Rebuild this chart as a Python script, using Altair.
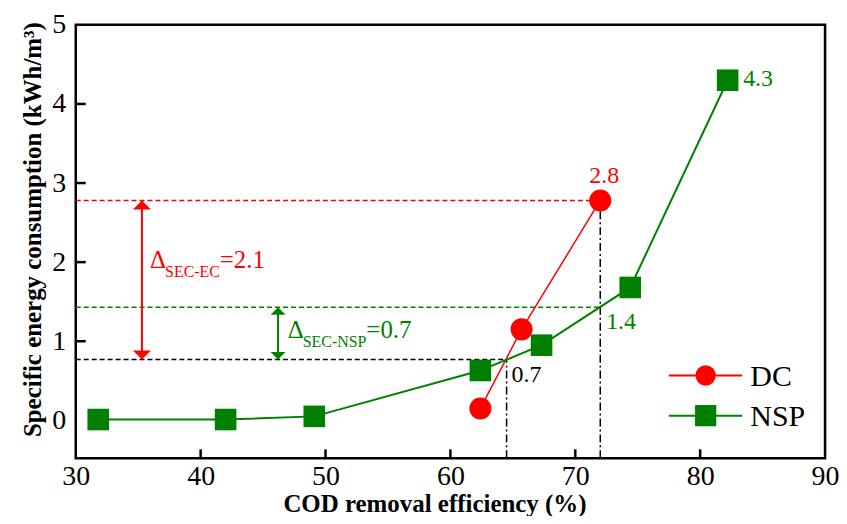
import altair as alt
import pandas as pd

# ---------------- data ----------------
dc_x = [62.4, 65.7, 72.0]
dc_y = [0.15, 1.15, 2.78]
nsp_x = [31.8, 42.0, 49.1, 62.4, 67.3, 74.4, 82.2]
nsp_y = [0.01, 0.01, 0.05, 0.63, 0.95, 1.68, 4.30]

x_ticks = [30, 40, 50, 60, 70, 80, 90]
y_ticks = [0, 1, 2, 3, 4, 5]
x_domain = [30, 90]
y_domain = [-0.48, 5]

RED = "#FF0000"
GREEN = "#008000"
BLACK = "#000000"

# dashed horizontal guide lines
h_y = [2.78, 1.43, 0.77]
h_x1 = [30, 30, 30]
h_x2 = [72.0, 72.0, 64.5]
h_color = [RED, GREEN, BLACK]
# dash-dot vertical guide lines
v_x = [64.5, 72.0]
v_y1 = [-0.48, -0.48]
v_y2 = [0.77, 2.78]

# double arrows
arrow_x = [35.3, 46.2]
arrow_lo = [0.77, 0.77]
arrow_hi = [2.78, 1.43]
arrow_color = [RED, GREEN]
arrow_head = [324, 225]

# annotation texts
ann_text = ["2.8", "1.4", "0.7", "4.3", "Δ", "SEC-EC", "=2.1", "Δ", "SEC-NSP", "=0.7"]
ann_x = [71.12, 72.47, 64.9, 83.44, 35.95, 37.15, 41.53, 46.97, 48.17, 53.27]
ann_y = [3.0, 1.153, 0.49, 4.233, 1.925, 1.816, 1.925, 1.039, 0.933, 1.039]
ann_color = [RED, GREEN, BLACK, GREEN, RED, RED, RED, GREEN, GREEN, GREEN]
ann_size = [24, 24, 24, 24, 25, 16, 25, 25, 16, 25]

# legend
leg_label = ["DC", "NSP"]
leg_y = [0.567, 0.059]
leg_text_y = [0.429, -0.067]
leg_x1 = [77.49, 77.49]
leg_x2 = [83.36, 83.36]
leg_mx = [80.44, 80.44]
leg_tx = [84.02, 84.02]

FONT = "Liberation Serif"

# ---------------- frames ----------------
dc = pd.DataFrame({"x": dc_x, "y": dc_y})
nsp = pd.DataFrame({"x": nsp_x, "y": nsp_y})
hdf = pd.DataFrame({"x": h_x1, "x2": h_x2, "y": h_y, "c": h_color})
vdf = pd.DataFrame({"x": v_x, "y": v_y1, "y2": v_y2})
adf = pd.DataFrame({"x": arrow_x, "y": arrow_lo, "y2": arrow_hi, "c": arrow_color, "s": arrow_head})
tdf = pd.DataFrame({"x": ann_x, "y": ann_y, "t": ann_text, "c": ann_color, "s": ann_size})
xt = pd.DataFrame({"x": x_ticks[1:-1]})
yt = pd.DataFrame({"y": y_ticks[1:-1]})
ldf = pd.DataFrame({"x": leg_x1, "x2": leg_x2, "mx": leg_mx, "tx": leg_tx,
                    "y": leg_y, "ty": leg_text_y, "label": leg_label})

xs = alt.Scale(domain=x_domain, nice=False, zero=False)
ys = alt.Scale(domain=y_domain, nice=False, zero=False)

xaxis = alt.Axis(values=x_ticks, title="COD removal efficiency (%)", grid=False,
                 domain=False, ticks=False, labelFont=FONT, labelFontSize=28,
                 labelPadding=4, labelColor="black", titleFont=FONT, titleFontSize=25,
                 titleFontWeight="bold", titleColor="black", titlePadding=1,
                 titleX=360, labelFlush=False)
yaxis = alt.Axis(values=y_ticks, title="Specific energy consumption (kWh/m³)", grid=False,
                 domain=False, ticks=False, labelFont=FONT, labelFontSize=28,
                 labelPadding=10, labelColor="black", titleFont=FONT, titleFontSize=25,
                 titleFontWeight="bold", titleColor="black", titlePadding=6,
                 titleY=205, labelFlush=False)


def X(f="x"):
    return alt.X(f, type="quantitative", scale=xs, axis=xaxis)


def Y(f="y"):
    return alt.Y(f, type="quantitative", scale=ys, axis=yaxis)


hlines = alt.Chart(hdf).mark_rule(strokeDash=[5, 3], strokeWidth=1.5).encode(
    x=X(), x2="x2", y=Y(), color=alt.Color("c:N", scale=None))
vlines = alt.Chart(vdf).mark_rule(strokeDash=[8, 3, 2, 3], strokeWidth=1.5, color=BLACK).encode(
    x=X(), y=Y(), y2="y2")
arrows = alt.Chart(adf).mark_rule(strokeWidth=2).encode(
    x=X(), y=Y(), y2="y2", color=alt.Color("c:N", scale=None))
head_up = alt.Chart(adf).mark_point(shape="M0,0L1,1L-1,1Z", filled=True, opacity=1).encode(
    x=X(), y=Y("y2"), color=alt.Color("c:N", scale=None), size=alt.Size("s:Q", scale=None))
head_dn = alt.Chart(adf).mark_point(shape="M0,0L1,-1L-1,-1Z", filled=True, opacity=1).encode(
    x=X(), y=Y("y"), color=alt.Color("c:N", scale=None), size=alt.Size("s:Q", scale=None))

dc_line = alt.Chart(dc).mark_line(color=RED, strokeWidth=1.5).encode(x=X(), y=Y())
dc_pts = alt.Chart(dc).mark_point(shape="circle", filled=True, size=490, color=RED, opacity=1).encode(
    x=X(), y=Y())
nsp_line = alt.Chart(nsp).mark_line(color=GREEN, strokeWidth=2).encode(x=X(), y=Y())
nsp_pts = alt.Chart(nsp).mark_point(shape="square", filled=True, size=470, color=GREEN, opacity=1).encode(
    x=X(), y=Y())

texts = alt.Chart(tdf).mark_text(font=FONT, align="left", baseline="alphabetic").encode(
    x=X(), y=Y(), text="t:N", color=alt.Color("c:N", scale=None), size=alt.Size("s:Q", scale=None))

xticks = alt.Chart(xt).mark_rule(color=BLACK, strokeWidth=2.5).encode(
    x=X(), y=alt.value(435), y2=alt.value(426))
yticks = alt.Chart(yt).mark_rule(color=BLACK, strokeWidth=2.5).encode(
    y=Y(), x=alt.value(0), x2=alt.value(10))

leg_dc = ldf[ldf.label == "DC"]
leg_nsp = ldf[ldf.label == "NSP"]
leg_lines = alt.Chart(ldf).mark_rule(strokeWidth=2).encode(
    x=X(), x2="x2", y=Y(),
    color=alt.Color("label:N", scale=alt.Scale(domain=leg_label, range=[RED, GREEN]), legend=None))
leg_c = alt.Chart(leg_dc).mark_point(shape="circle", filled=True, size=415, color=RED, opacity=1).encode(
    x=X("mx"), y=Y())
leg_s = alt.Chart(leg_nsp).mark_point(shape="square", filled=True, size=455, color=GREEN, opacity=1).encode(
    x=X("mx"), y=Y())
leg_t = alt.Chart(ldf).mark_text(font=FONT, fontSize=30, align="left", baseline="alphabetic", color=BLACK).encode(
    x=X("tx"), y=Y("ty"), text="label:N")

chart = alt.layer(
    hlines, vlines, arrows, head_up, head_dn,
    dc_line, dc_pts, nsp_line, nsp_pts, texts,
    xticks, yticks, leg_lines, leg_c, leg_s, leg_t
).properties(
    width=752, height=435,
    autosize=alt.AutoSizeParams(type="none"),
    padding={"left": 68, "top": 16, "right": 14, "bottom": 57},
    background="white",
).configure_view(stroke=BLACK, strokeWidth=2.5)

chart.save("out.html", embed_options={"renderer": "svg", "actions": False})
